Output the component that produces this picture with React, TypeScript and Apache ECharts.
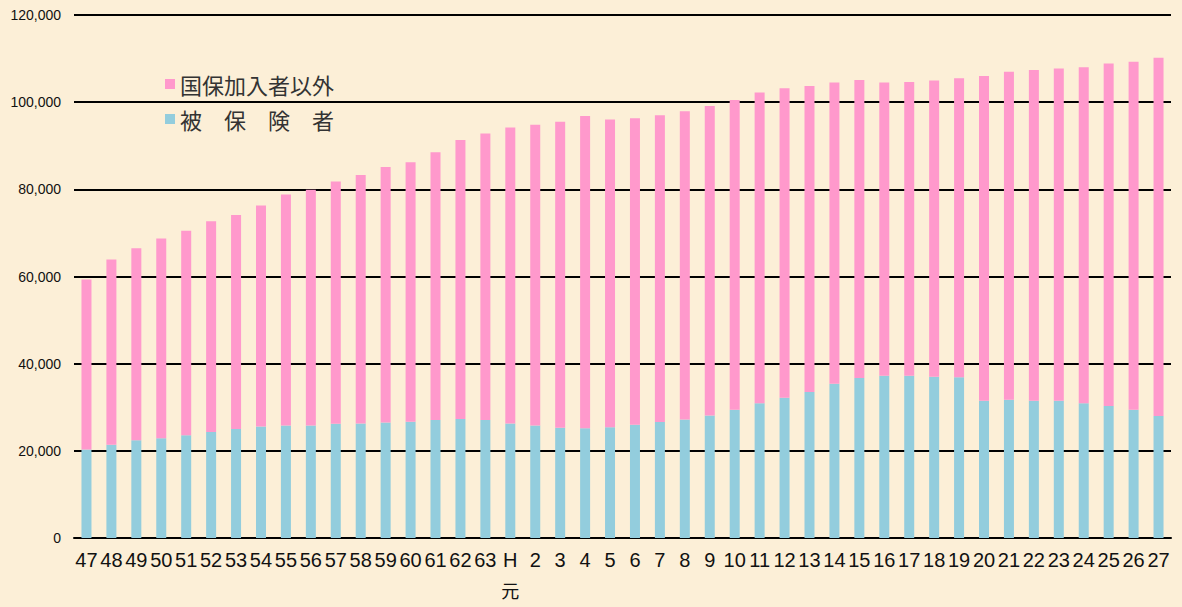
import React, { useEffect, useRef } from "react";
import * as echarts from "echarts";

const categories: string[] = [
  "47", "48", "49", "50", "51", "52", "53", "54", "55", "56", "57", "58", "59",
  "60", "61", "62", "63", "H元", "2", "3", "4", "5", "6", "7", "8", "9", "10",
  "11", "12", "13", "14", "15", "16", "17", "18", "19", "20", "21", "22", "23",
  "24", "25", "26", "27",
];

// 被保険者 (insured)
const insured: number[] = [
  20300, 21400, 22400, 22900, 23600, 24300, 25000, 25600, 25800, 25800, 26200, 26300, 26500,
  26700, 27100, 27300, 27100, 26300, 25800, 25300, 25200, 25400, 26000, 26600, 27200, 28100, 29400,
  30900, 32200, 33500, 35400, 36700, 37200, 37200, 37000, 36900, 31500, 31700, 31500, 31500,
  30900, 30300, 29400, 28000,
];

// 国保加入者以外 (non-members)
const nonMembers: number[] = [
  39000, 42500, 44100, 45800, 46900, 48400, 49100, 50700, 53000, 54100, 55600, 57000, 58600,
  59500, 61400, 64000, 65700, 67900, 69000, 70200, 71600, 70600, 70300, 70400, 70700, 71000, 71100,
  71300, 71000, 70200, 69100, 68400, 67300, 67400, 68000, 68600, 74500, 75300, 75900, 76200,
  77100, 78600, 79900, 82200,
];

const yTicks = { min: 0, max: 120000, interval: 20000 };

const seriesNames = ["国保加入者以外", "被　保　険　者"];

export default function App() {
  const ref = useRef<HTMLDivElement>(null);

  useEffect(() => {
    if (!ref.current) return;
    const chart = echarts.init(ref.current, null, { renderer: "svg" });
    chart.setOption({
      animation: false,
      backgroundColor: "#FCEFD7",
      grid: { left: 74, right: 11, top: 15, bottom: 69, containLabel: false },
      legend: {
        orient: "vertical",
        left: 160,
        top: 67,
        itemWidth: 10,
        itemHeight: 10,
        itemGap: 11,
        icon: "rect",
        data: [seriesNames[0], seriesNames[1]],
        textStyle: {
          fontSize: 22,
          lineHeight: 24,
          color: "#333",
          fontFamily: "'Noto Sans CJK JP', sans-serif",
        },
      },
      xAxis: {
        type: "category",
        data: categories,
        axisLine: { show: true, lineStyle: { color: "#000", width: 2 } },
        axisTick: { show: false },
        axisLabel: {
          interval: 0,
          margin: 7,
          fontSize: 20,
          lineHeight: 30,
          color: "#111",
          fontFamily: "'Liberation Sans Narrow', 'Arial Narrow', 'Liberation Sans', sans-serif",
          formatter: (v: string) => (v === "H元" ? "{a|H}\n{b|元}" : v),
          rich: {
            a: {
              fontSize: 20,
              lineHeight: 30,
              color: "#111",
              fontFamily: "'Liberation Sans Narrow', 'Liberation Sans', sans-serif",
            },
            b: {
              fontSize: 18,
              lineHeight: 30,
              color: "#111",
              fontFamily: "'Noto Sans CJK JP', sans-serif",
            },
          },
        },
      },
      yAxis: {
        type: "value",
        min: yTicks.min,
        max: yTicks.max,
        interval: yTicks.interval,
        axisLine: { show: false },
        axisTick: { show: false },
        splitLine: { show: true, lineStyle: { color: "#000", width: 2 } },
        axisLabel: {
          margin: 13,
          fontSize: 14,
          color: "#111",
          fontFamily: "'Liberation Sans', Arial, sans-serif",
          formatter: (v: number) => v.toLocaleString("en-US"),
        },
      },
      series: [
        {
          name: seriesNames[1],
          type: "bar",
          stack: "total",
          barWidth: 10,
          data: insured,
          itemStyle: { color: "#93CDDD" },
        },
        {
          name: seriesNames[0],
          type: "bar",
          stack: "total",
          barWidth: 10,
          data: nonMembers,
          itemStyle: { color: "#FF99CC" },
        },
      ],
    });
    return () => chart.dispose();
  }, []);

  return (
    <div
      ref={ref}
      style={{ position: "absolute", left: 0, top: 0, width: 1182, height: 607 }}
    />
  );
}
